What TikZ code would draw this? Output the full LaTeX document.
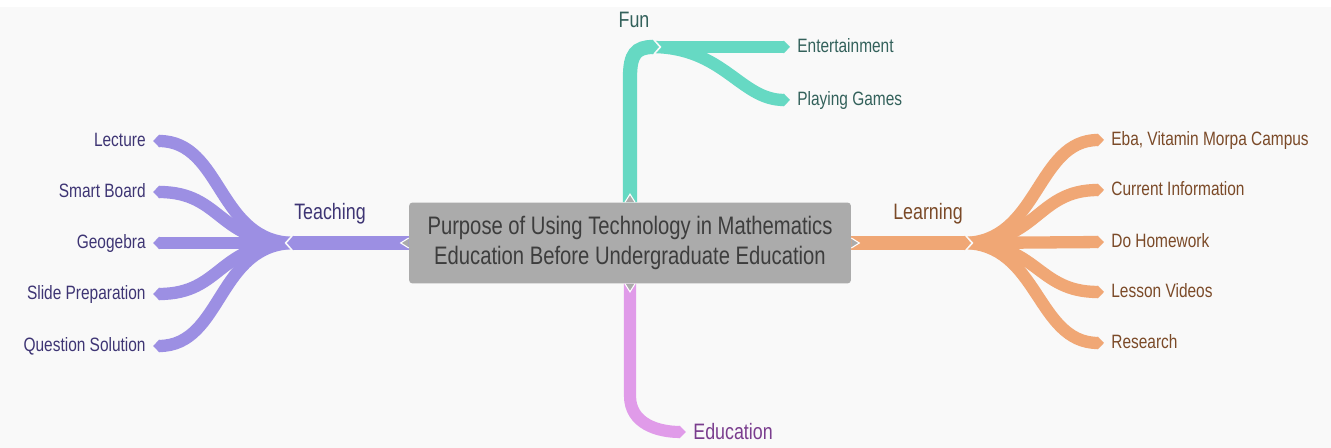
\documentclass[tikz,border=0pt]{standalone}
\usepackage{fontspec}
\setmainfont{Liberation Sans}[FakeStretch=0.8]
\usetikzlibrary{arrows.meta}
\definecolor{bgc}{HTML}{F9F9F9}
\definecolor{boxgray}{HTML}{ABABAB}
\definecolor{boxtext}{HTML}{3D3D3D}
\definecolor{tcol}{HTML}{9C8FE3}
\definecolor{ttext}{HTML}{3E3574}
\definecolor{lcol}{HTML}{F0A775}
\definecolor{ltext}{HTML}{7B4A28}
\definecolor{fcol}{HTML}{66D9C3}
\definecolor{ftext}{HTML}{33615B}
\definecolor{ecol}{HTML}{E09BE9}
\definecolor{etext}{HTML}{7A3D8E}
\begin{document}
\begin{tikzpicture}[x=0.02cm, y=-0.02cm,
    lbl/.style={inner xsep=4pt, text height=1.7ex, text depth=0.45ex, font=\fontsize{11}{13}\selectfont},
    branch/.style={font=\fontsize{12.7}{15}\selectfont},
    stem/.style={line width=8.1pt, -{Triangle[length=3.6pt,width=0pt 1]},
      preaction={draw=bgc, line width=10.7pt, shorten >=-1.4pt, -{Triangle[length=5pt,width=0pt 1]}}},
    twig/.style={line width=7pt, shorten <=-4.5pt, -{Triangle[length=3.6pt,width=0pt 1]}},
    tail/.style={line width=6.9pt, -{Triangle[length=3.6pt,width=0pt 1]}},
    notch/.style={fill=boxgray, draw=white, line width=0.6pt},
]
\fill[white] (0,0) rectangle (1331,448);
\fill[bgc] (0,7) rectangle (1331,448);

\node[fill=boxgray, rounded corners=2pt, minimum width=8.84cm, minimum height=1.62cm, align=center,
  text=boxtext, font=\fontsize{14.4}{17.6}\selectfont] (purpose) at (630,243)
  {Purpose of Using Technology in Mathematics\\Education Before Undergraduate Education};

% teaching
\node[branch, text=ttext] (teaching) at (330,214) {Teaching};
\node[lbl, text=ttext, anchor=east] (lecture) at (153,141) {Lecture};
\node[lbl, text=ttext, anchor=east] (smart) at (153,192) {Smart Board};
\node[lbl, text=ttext, anchor=east] (geo) at (153,243) {Geogebra};
\node[lbl, text=ttext, anchor=east] (slide) at (153,294) {Slide Preparation};
\node[lbl, text=ttext, anchor=east] (question) at (153,346) {Question Solution};
\coordinate (tJ) at (287,243);
\draw[twig, tcol] (tJ) .. controls +(-70,0) and +(70,0) .. (lecture.east);
\draw[twig, tcol] (tJ) .. controls +(-70,0) and +(70,0) .. (smart.east);
\draw[twig, tcol] (tJ) -- (geo.east);
\draw[twig, tcol] (tJ) .. controls +(-70,0) and +(70,0) .. (slide.east);
\draw[twig, tcol] (tJ) .. controls +(-70,0) and +(70,0) .. (question.east);
\draw[stem, tcol] (purpose.west) -- (tJ);

% learning
\node[branch, text=ltext] (learning) at (928,214) {Learning};
\node[lbl, text=ltext, anchor=west] (eba) at (1104,140) {Eba, Vitamin Morpa Campus};
\node[lbl, text=ltext, anchor=west] (current) at (1104,190) {Current Information};
\node[lbl, text=ltext, anchor=west] (homework) at (1104,242) {Do Homework};
\node[lbl, text=ltext, anchor=west] (videos) at (1104,292) {Lesson Videos};
\node[lbl, text=ltext, anchor=west] (research) at (1104,343) {Research};
\coordinate (lJ) at (971,243);
\draw[twig, lcol] (lJ) .. controls +(68,0) and +(-68,0) .. (eba.west);
\draw[twig, lcol] (lJ) .. controls +(68,0) and +(-68,0) .. (current.west);
\draw[twig, lcol] (lJ) -- (homework.west);
\draw[twig, lcol] (lJ) .. controls +(68,0) and +(-68,0) .. (videos.west);
\draw[twig, lcol] (lJ) .. controls +(68,0) and +(-68,0) .. (research.west);
\draw[stem, lcol] (purpose.east) -- (lJ);

% fun
\node[branch, text=ftext] (fun) at (634,20) {Fun};
\node[lbl, text=ftext, anchor=west] (entertainment) at (790,47) {Entertainment};
\node[lbl, text=ftext, anchor=west] (playing) at (790,100) {Playing Games};
\coordinate (fJ) at (659,47);
\draw[twig, fcol] (fJ) -- (entertainment.west);
\draw[twig, fcol] (fJ) .. controls +(65,0) and +(-50,0) .. (playing.west);
\draw[stem, fcol] (purpose.north) -- ++(0,-125) .. controls +(0,-23) and +(-23,0) .. (fJ);

% education
\node[branch, text=etext, anchor=west, inner xsep=4pt] (education) at (686,432) {Education};
\draw[tail, ecol] (purpose.south) -- ++(0,112) .. controls +(0,28) and +(-28,0) .. (education.west);

% pointers of the box
\filldraw[notch] ([xshift=-0.1cm]purpose.north) -- ([yshift=0.16cm]purpose.north) -- ([xshift=0.1cm]purpose.north);
\filldraw[notch] ([xshift=-0.1cm]purpose.south) -- ([yshift=-0.16cm]purpose.south) -- ([xshift=0.1cm]purpose.south);
\filldraw[notch] ([yshift=0.1cm]purpose.west) -- ([xshift=-0.16cm]purpose.west) -- ([yshift=-0.1cm]purpose.west);
\filldraw[notch] ([yshift=0.1cm]purpose.east) -- ([xshift=0.16cm]purpose.east) -- ([yshift=-0.1cm]purpose.east);
\end{tikzpicture}
\end{document}
